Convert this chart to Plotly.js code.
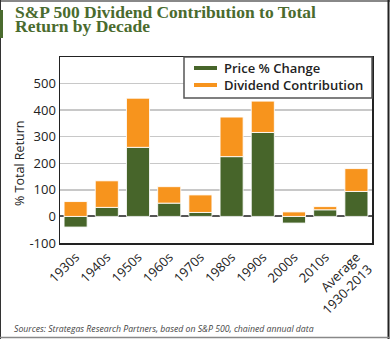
<!DOCTYPE html>
<html>
<head>
<meta charset="utf-8">
<script src="https://cdn.plot.ly/plotly-3.0.1.min.js"></script>
<style>html,body{margin:0;padding:0;background:#fff;}#chart{width:390px;height:339px;}</style>
</head>
<body>
<div id="chart"></div>
<script>
const categories = ["1930s","1940s","1950s","1960s","1970s","1980s","1990s","2000s","2010s","Average<br>1930-2013"];
const priceChange = [-40, 34, 260, 50, 15, 225, 316, -25, 25, 94];
const dividendContribution = [56, 100, 185, 62, 66, 149, 118, 17, 12, 86];
const seriesNames = ["Price % Change", "Dividend Contribution"];
const yTicks = [-100, 0, 100, 200, 300, 400, 500];

const GREEN = "#47652a";
const ORANGE = "#f7941d";
const TITLE_GREEN = "#4a6b2e";
const seriesColors = [GREEN, ORANGE];

const W = 390, H = 339, L = 60, R = 18, T = 57, B = 96;
const pw = W - L - R, ph = H - T - B;
const px = x => (x - L) / pw;
const py = y => (H - B - y) / ph;

const traces = [
  {type: "bar", x: categories, y: priceChange, name: seriesNames[0], showlegend: false,
   marker: {color: GREEN, line: {color: "rgba(255,255,255,0.85)", width: 1}}},
  {type: "bar", x: categories, y: dividendContribution, name: seriesNames[1], showlegend: false,
   marker: {color: ORANGE, line: {color: "rgba(255,255,255,0.85)", width: 1}}}
];

// custom legend (box + line symbols + text) in pixel positions
const legendBox = {x0: 184, x1: 372, y0: 57, y1: 98};
const legendRows = [68, 85];
const legendShapes = [
  {type: "rect", xref: "paper", yref: "paper", x0: px(legendBox.x0), x1: px(legendBox.x1), y0: py(legendBox.y0), y1: py(legendBox.y1),
   fillcolor: "#fff", line: {color: "#555", width: 1.5}, layer: "above"}
];
const legendAnnots = [];
seriesNames.forEach((name, i) => {
  legendShapes.push({type: "line", xref: "paper", yref: "paper", x0: px(194), x1: px(217), y0: py(legendRows[i]), y1: py(legendRows[i]),
    line: {color: seriesColors[i], width: 4}, layer: "above"});
  legendAnnots.push({xref: "paper", yref: "paper", x: px(222), y: py(legendRows[i]), xanchor: "left", yanchor: "middle", showarrow: false,
    text: name, font: {family: "Open Sans, sans-serif", size: 13, color: "#222", weight: 600}});
});

const layout = {
  width: W, height: H,
  margin: {l: L, r: R, t: T, b: B, pad: 0},
  paper_bgcolor: "#fff", plot_bgcolor: "#fff",
  barmode: "relative", bargap: 0.26,
  showlegend: false,
  font: {family: "Open Sans, sans-serif", color: "#222", size: 13},
  xaxis: {
    type: "category", tickangle: -45, showline: true, mirror: true, linecolor: "#222", linewidth: 1.5,
    ticks: "", showgrid: false, tickfont: {size: 13, color: "#222"}
  },
  yaxis: {
    range: [-100, 600], tickvals: yTicks, ticktext: yTicks.map(String),
    showline: true, mirror: true, linecolor: "#222", linewidth: 1.5, ticks: "",
    showgrid: true, gridcolor: "#c8c8c8", gridwidth: 1.5,
    zeroline: true, zerolinecolor: "#555", zerolinewidth: 2,
    tickfont: {size: 13, color: "#222"}
  },
  annotations: [
    {xref: "paper", yref: "paper", x: px(13), y: py(24), xanchor: "left", yanchor: "bottom", showarrow: false,
     text: "<b>S&P 500 Dividend Contribution to Total</b>", font: {family: "Liberation Serif, serif", size: 17.5, color: TITLE_GREEN}},
    {xref: "paper", yref: "paper", x: px(13), y: py(37.5), xanchor: "left", yanchor: "bottom", showarrow: false,
     text: "<b>Return by Decade</b>", font: {family: "Liberation Serif, serif", size: 17.5, color: TITLE_GREEN}},
    {xref: "paper", yref: "paper", x: px(19), y: py(164), xanchor: "center", yanchor: "middle", showarrow: false, textangle: -90,
     text: "% Total Return", font: {family: "Open Sans, sans-serif", size: 12.5, color: "#222"}},
    {xref: "paper", yref: "paper", x: px(12), y: py(329), xanchor: "left", yanchor: "middle", showarrow: false,
     text: "<i>Sources: Strategas Research Partners, based on S&P 500, chained annual data</i>",
     font: {family: "Open Sans, sans-serif", size: 8.7, color: "#444"}}
  ].concat(legendAnnots),
  shapes: [
    {type: "line", xref: "paper", yref: "paper", x0: px(0), x1: px(390), y0: py(1), y1: py(1), line: {color: "#888", width: 2}},
    {type: "line", xref: "paper", yref: "paper", x0: px(0.5), x1: px(0.5), y0: py(0), y1: py(339), line: {color: "#333", width: 1}},
    {type: "line", xref: "paper", yref: "paper", x0: px(388.5), x1: px(388.5), y0: py(0), y1: py(339), line: {color: "#222", width: 2}},
    {type: "line", xref: "paper", yref: "paper", x0: px(0), x1: px(390), y0: py(337.5), y1: py(337.5), line: {color: "#888", width: 1.5}},
    {type: "rect", xref: "paper", yref: "paper", x0: px(0), x1: px(3), y0: py(10), y1: py(38), fillcolor: TITLE_GREEN, line: {width: 0}}
  ].concat(legendShapes)
};

Plotly.newPlot("chart", traces, layout, {displayModeBar: false, staticPlot: true});
</script>
</body>
</html>
